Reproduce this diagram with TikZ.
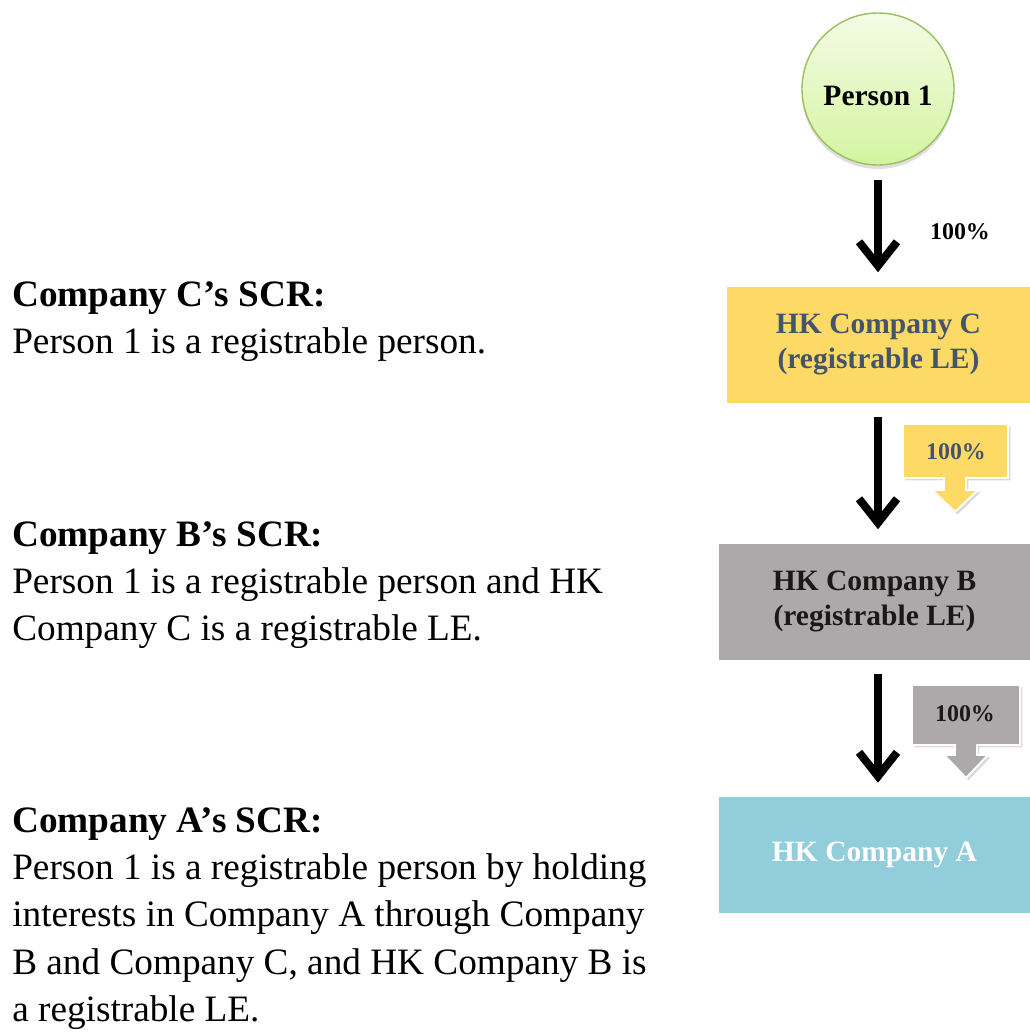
\documentclass[tikz,border=0pt]{standalone}
\usepackage{fontspec}
\setmainfont{Liberation Serif}
\usepackage{xcolor}
\usetikzlibrary{arrows.meta,shadows,calc}
\definecolor{greenTop}{RGB}{244,252,230}
\definecolor{greenBot}{RGB}{212,244,160}
\definecolor{greenLine}{RGB}{155,190,95}
\definecolor{yellowC}{RGB}{253,217,102}
\definecolor{grayB}{RGB}{173,169,170}
\definecolor{blueA}{RGB}{146,205,220}
\definecolor{slateC}{RGB}{68,84,106}
\definecolor{darkB}{RGB}{28,24,24}
\tikzset{>={Straight Barb[length=0.6cm,width=0.95cm]}}
\tikzset{
	own/.style={->, line width=0.2cm, shorten <=0.35cm, shorten >=0.35cm},
	company/.style={rectangle, inner sep=0pt, minimum height=2.9cm, align=center,
		font=\fontsize{21}{24.5}\selectfont\bfseries},
	person/.style={circle, minimum size=3.8cm, inner sep=0pt, draw=greenLine, line width=1pt,
		top color=greenTop, bottom color=greenBot,
		drop shadow={opacity=0.25, shadow xshift=0cm, shadow yshift=-0.1cm},
		font=\fontsize{21}{24}\selectfont\bfseries},
	callout/.style={draw=white, line width=1.4pt, line join=miter,
		drop shadow={opacity=0.3, shadow xshift=0.06cm, shadow yshift=-0.06cm}},
	pct/.style={inner sep=0pt, font=\fontsize{17}{20}\selectfont\bfseries},
	scr/.style={anchor=north west, inner sep=0pt, align=left,
		font=\fontsize{26.5}{33.7}\selectfont}
}
\begin{document}
\begin{tikzpicture}
	\useasboundingbox (0,0) rectangle (25.75,-25.8);

	% Ownership chain
	\node[person] (p1) at (21.95,-2.225) {\raisebox{-0.4cm}[0pt][0pt]{Person 1}}; %Person 1
	\node[company, fill=yellowC, text=slateC, minimum width=7.575cm] (cC) at (21.9625,-8.6125) {HK Company C\\(registrable LE)}; %Company C
	\node[company, fill=grayB, text=darkB, minimum width=7.775cm] (cB) at (21.8625,-15.0375) {HK Company B\\(registrable LE)}; %Company B
	\node[company, fill=blueA, text=white, minimum width=7.775cm] (cA) at (21.8625,-21.375) {HK Company A}; %Company A

	% Arrows
	\draw[own] (p1.south) -- (p1 |- cC.north);
	\draw[own] (p1 |- cC.south) -- (p1 |- cB.north);
	\draw[own] (p1 |- cB.south) -- (p1 |- cA.north);

	% Shares
	\node[pct] (pctP) at (24,-5.8) {100\%};
	\draw[callout, fill=yellowC] (22.575,-10.6) -- (25.2,-10.6) -- (25.2,-11.95) -- (24.15,-11.95) -- (24.15,-12.25)
		-- (24.45,-12.25) -- (23.875,-12.8) -- (23.3,-12.25) -- (23.6,-12.25) -- (23.6,-11.95) -- (22.575,-11.95) -- cycle;
	\node[pct, text=slateC] (pctC) at (23.9,-11.3) {100\%};
	\draw[callout, fill=grayB] (22.8,-17.125) -- (25.5,-17.125) -- (25.5,-18.625) -- (24.425,-18.625) -- (24.425,-18.875)
		-- (24.7,-18.875) -- (24.15,-19.45) -- (23.6,-18.875) -- (23.875,-18.875) -- (23.875,-18.625) -- (22.8,-18.625) -- cycle;
	\node[pct, text=darkB] (pctB) at (24.125,-17.85) {100\%};

	% Register notes
	\node[scr] (scrC) at (0.3,-7.025) {\textbf{Company C’s SCR:}\\Person 1 is a registrable person.};
	\node[scr] (scrB) at (0.3,-13.025) {\textbf{Company B’s SCR:}\\Person 1 is a registrable person and HK\\Company C is a registrable LE.};
	\node[scr] (scrA) at (0.3,-20.175) {\textbf{Company A’s SCR:}\\Person 1 is a registrable person by holding\\interests in Company A through Company\\B and Company C, and HK Company B is\\a registrable LE.};
\end{tikzpicture}
\end{document}
